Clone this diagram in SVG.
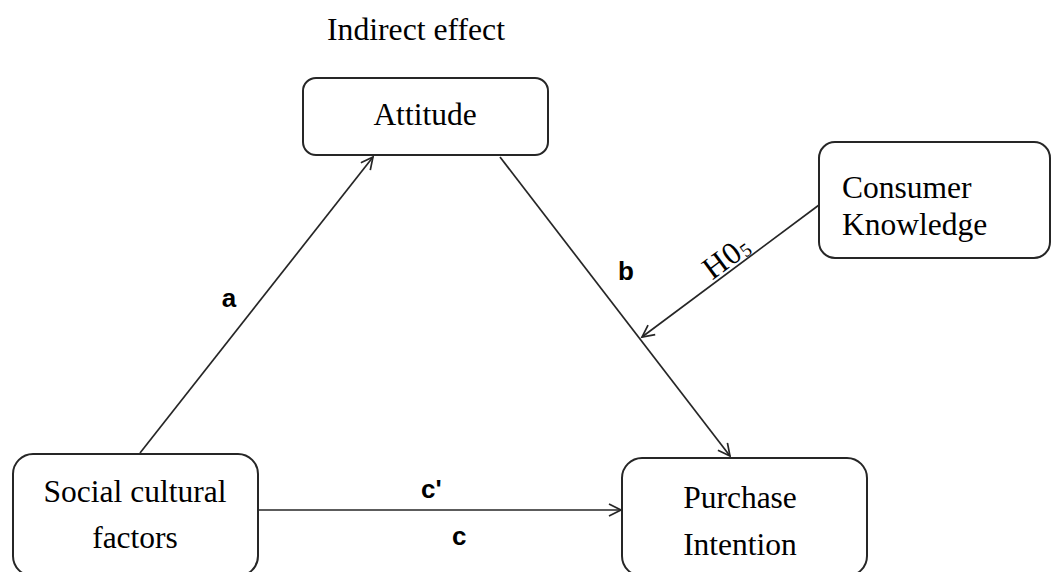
<svg xmlns="http://www.w3.org/2000/svg" width="1052" height="572" viewBox="0 0 1052 572">
  <style>
    .box { fill: #ffffff; stroke: #262626; stroke-width: 2; }
    .lbl { font-family: "Liberation Serif", "Times New Roman", serif; font-size: 31.5px; fill: #000000; }
    .path { font-family: "Liberation Sans", Arial, sans-serif; font-weight: bold; font-size: 26px; fill: #000000; }
    .edge { fill: none; stroke: #262626; stroke-width: 1.7; marker-end: url(#open); }
  </style>
  <defs>
    <marker id="open" markerUnits="userSpaceOnUse" markerWidth="16" markerHeight="16" refX="13" refY="7" orient="auto">
      <path d="M1,1 L13,7 L1,13" fill="none" stroke="#262626" stroke-width="1.7"/>
    </marker>
  </defs>

  <rect width="1052" height="572" fill="#ffffff"/>

  <text class="lbl" x="327" y="40" textLength="178" lengthAdjust="spacingAndGlyphs">Indirect effect</text>

  <g id="connectors">
    <line class="edge" x1="140" y1="453" x2="373" y2="157"/>
    <line class="edge" x1="500" y1="157" x2="730" y2="456"/>
    <line class="edge" x1="258" y1="510" x2="621" y2="510"/>
    <line class="edge" x1="819" y1="205" x2="642" y2="337"/>
    <text class="path" x="229" y="307" text-anchor="middle">a</text>
    <text class="path" x="626" y="280" text-anchor="middle">b</text>
    <text class="path" x="421" y="498">c'</text>
    <text class="path" x="452" y="545">c</text>
    <!-- hypothesis label laid along the moderating arrow -->
    <g transform="translate(714,283) rotate(-36.7)">
      <text class="lbl" x="0" y="-3" font-size="27" textLength="50" lengthAdjust="spacing">H0<tspan font-size="19" dy="2">5</tspan></text>
    </g>
  </g>

  <g id="attitude">
    <rect class="box" x="303" y="78" width="245" height="77" rx="13"/>
    <text class="lbl" x="425" y="125" text-anchor="middle">Attitude</text>
  </g>

  <g id="consumer-knowledge">
    <rect class="box" x="819" y="142" width="231" height="116" rx="16"/>
    <text class="lbl" x="842" y="198">Consumer</text>
    <text class="lbl" x="842" y="235">Knowledge</text>
  </g>

  <g id="social-cultural-factors">
    <rect class="box" x="13" y="454" width="245" height="122" rx="20"/>
    <text class="lbl" x="135" y="502" text-anchor="middle">Social cultural</text>
    <text class="lbl" x="135" y="548" text-anchor="middle">factors</text>
  </g>

  <g id="purchase-intention">
    <rect class="box" x="622" y="458" width="245" height="118" rx="20"/>
    <text class="lbl" x="740" y="508" text-anchor="middle">Purchase</text>
    <text class="lbl" x="740" y="555" text-anchor="middle">Intention</text>
  </g>
</svg>
